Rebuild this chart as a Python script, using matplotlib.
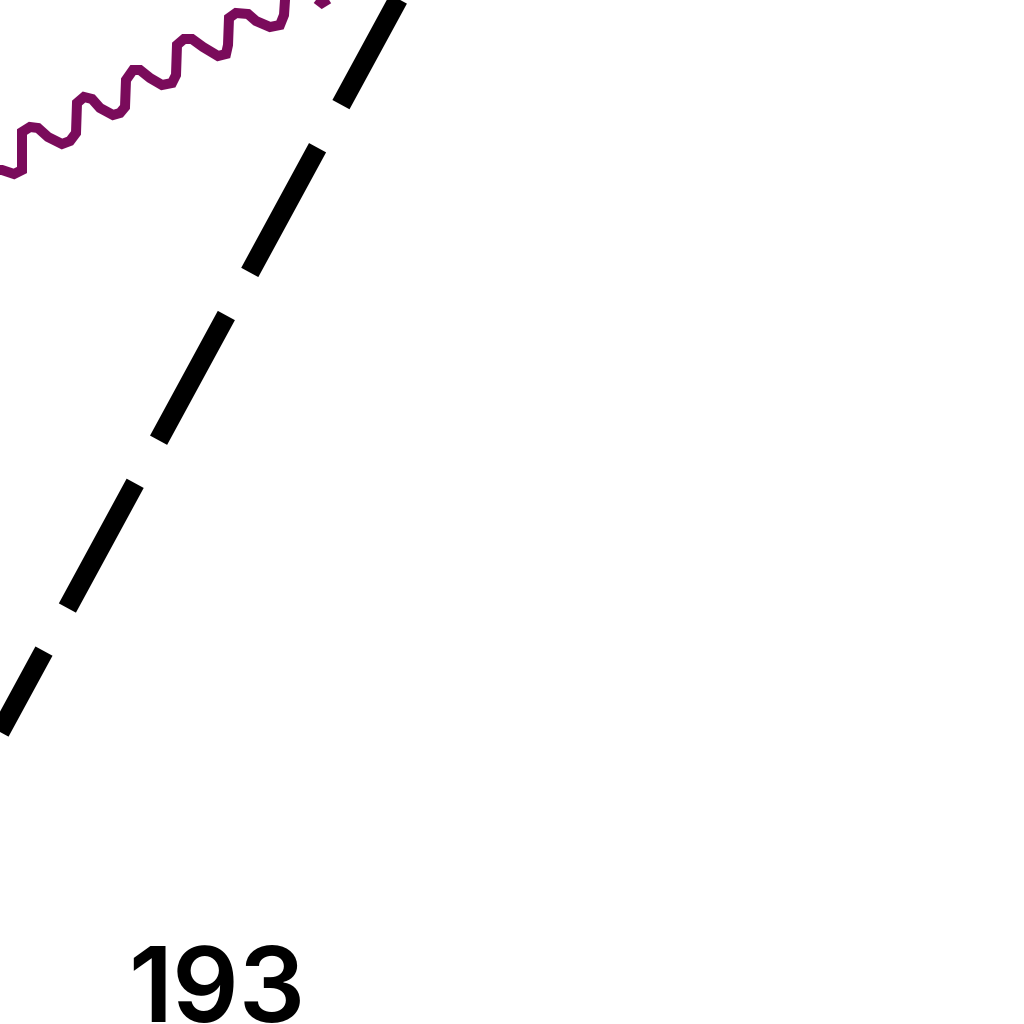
import matplotlib
matplotlib.use("Agg")
import matplotlib.pyplot as plt

# purple series (x across, level upward)
wave_x = [-5, 2, 14, 22, 22, 30, 38, 48, 62, 70, 76, 77, 84, 92, 100,
          113, 120, 125, 126, 133, 140, 150, 162, 172, 176, 177, 184, 192, 203, 218,
          226, 228, 229, 236, 248, 256, 270, 280, 284, 286, 292, 305, 322, 335, 340]
wave_y = [854, 854, 850, 854, 892, 897, 896, 887, 880, 883, 891, 921, 927, 925, 916,
          909, 911, 917, 944, 954, 954, 946, 939, 941, 949, 979, 985, 985, 977, 968,
          970, 979, 1006, 1011, 1010, 1003, 997, 999, 1009, 1039, 1044, 1034, 1021, 1029, 1054]

# dashed trend line, two end points (starts on the left edge so the dash phase holds)
trend_x = [0, 500]
trend_y = [292, 1212]

tick_label = "193"

plt.rcParams['lines.scale_dashes'] = False

fig = plt.figure(figsize=(10.24, 10.24), dpi=100)
ax = fig.add_axes([0, 0, 1, 1])

ax.plot(wave_x, wave_y, color='#7a0b5b', lw=7.2,
        solid_joinstyle='miter', solid_capstyle='butt')
ax.plot(trend_x, trend_y, color='black', lw=14,
        linestyle=(35.9, (102.2, 35.3)), dash_capstyle='butt')

ax.set_xlim(0, 1024)
ax.set_ylim(0, 1024)
ax.axis('off')

fig.text(128 / 1024, 0.002, tick_label, fontsize=75,
         family='Inter', weight='semibold', va='baseline', ha='left')

fig.savefig('out.png', dpi=100, facecolor='white')
